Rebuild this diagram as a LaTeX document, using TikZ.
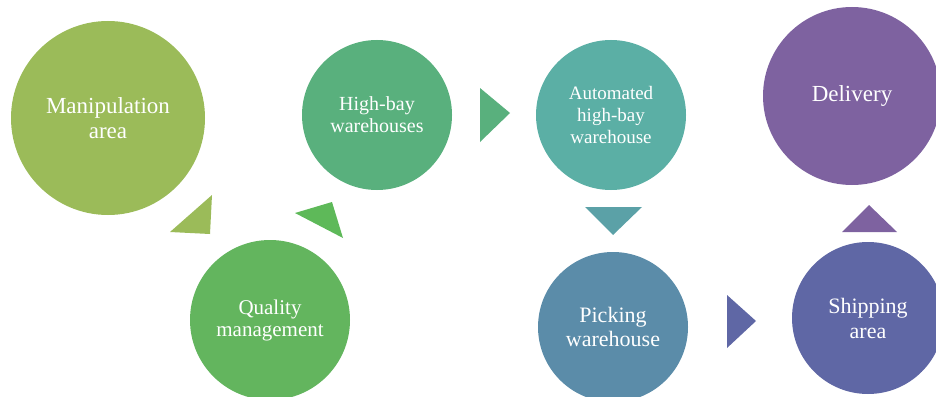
\documentclass[tikz,border=0pt]{standalone}
\usepackage{fontspec}
\setmainfont{Liberation Serif}
\usepackage{tikz}

\definecolor{manip}{HTML}{9BBB59}
\definecolor{highbay}{HTML}{59B07D}
\definecolor{quality}{HTML}{63B55E}
\definecolor{autom}{HTML}{5BAFA5}
\definecolor{picking}{HTML}{5B8CA9}
\definecolor{shipping}{HTML}{5F67A5}
\definecolor{delivery}{HTML}{7E62A0}

\tikzset{
  stage/.style={shape=circle,inner sep=0pt,text=white,align=center},
  tri/.style={fill=#1}
}

\begin{document}
\begin{tikzpicture}[x=1pt,y=-1pt]
\useasboundingbox (0,0) rectangle (936,396);

\path (108,118) node[stage,fill=manip,minimum size=194pt,font=\fontsize{23}{25}\selectfont] (M) {Manipulation\\area};
\path (270,320) node[stage,fill=quality,minimum size=160pt,font=\fontsize{21}{22}\selectfont] (Q) {Quality\\management};
\path (377,115) node[stage,fill=highbay,minimum size=150pt,font=\fontsize{20}{22}\selectfont] (H) {High-bay\\warehouses};
\path (611,115) node[stage,fill=autom,minimum size=150pt,font=\fontsize{19}{22}\selectfont] (A) {Automated\\high-bay\\warehouse};
\path (613,327) node[stage,fill=picking,minimum size=150pt,font=\fontsize{22}{24}\selectfont] (P) {Picking\\warehouse};
\path (868,318) node[stage,fill=shipping,minimum size=152pt,font=\fontsize{22}{25}\selectfont] (S) {Shipping\\area};
\path (852,96) node[stage,fill=delivery,minimum size=178pt,font=\fontsize{23}{25}\selectfont] (D) {\raisebox{-3pt}{Delivery}};

\fill[tri=manip] (170,232) -- (212,195) -- (210,234) -- cycle;
\fill[tri=quality!95!green] (295,213) -- (332,202) -- (343,238) -- cycle;
\fill[tri=highbay] (480,88) -- (510,113) -- (480,142) -- cycle;
\fill[tri=autom!60!picking] (585,207) -- (642,207) -- (613,235) -- cycle;
\fill[tri=shipping] (727,295) -- (756,321) -- (727,348) -- cycle;
\fill[tri=delivery] (842,232) -- (869,205) -- (897,232) -- cycle;
\end{tikzpicture}
\end{document}
